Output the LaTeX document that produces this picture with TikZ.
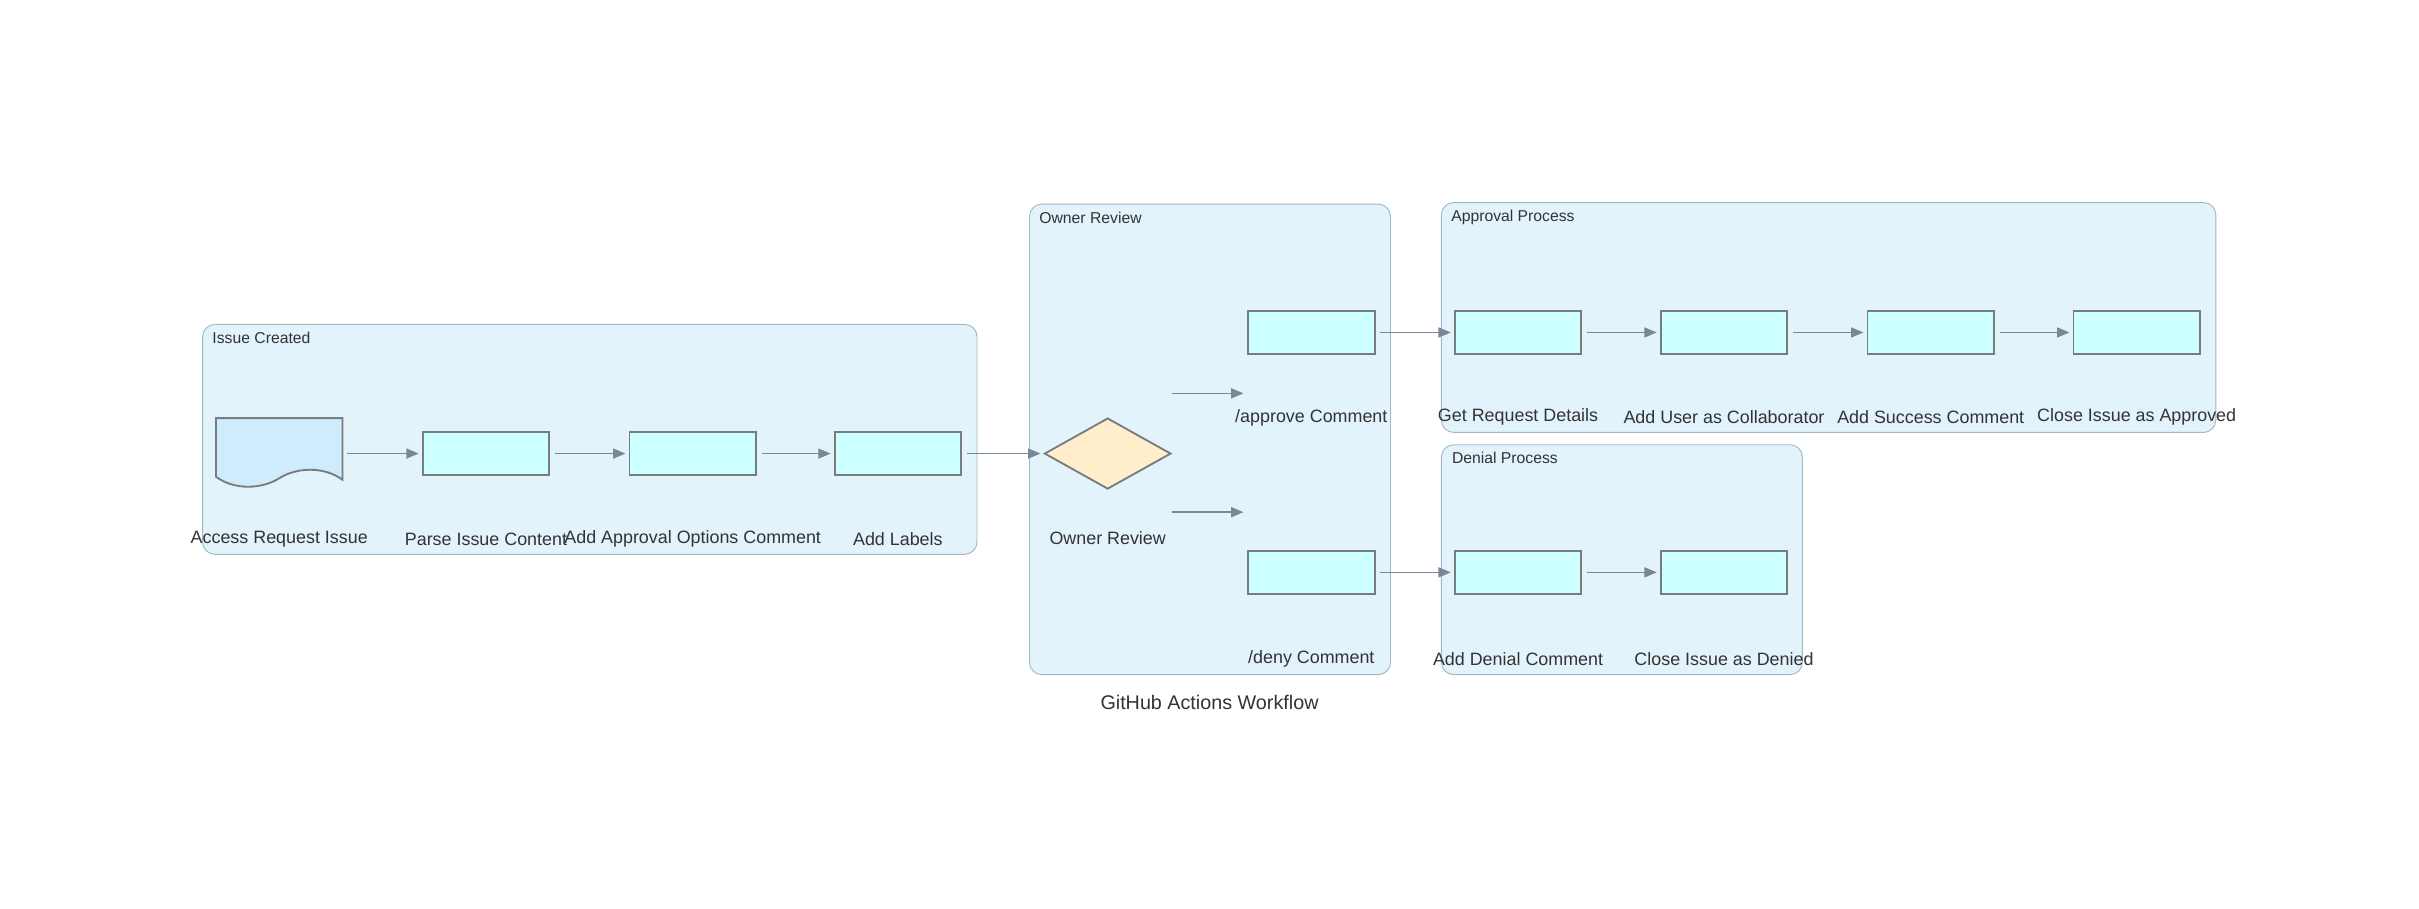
\documentclass[tikz,border=0pt]{standalone}
\usepackage{fontspec}
\setmainfont{Liberation Sans}
\usetikzlibrary{shapes.geometric,arrows.meta,positioning}
\definecolor{clusterfill}{RGB}{227,243,252}
\definecolor{clusterline}{RGB}{163,182,198}
\definecolor{stepfill}{RGB}{204,255,255}
\definecolor{docfill}{RGB}{206,236,252}
\definecolor{choicefill}{RGB}{255,237,204}
\definecolor{edgeline}{RGB}{122,135,150}
\definecolor{boxline}{RGB}{120,124,124}
\definecolor{txt}{RGB}{51,51,51}

\begin{document}
\begin{tikzpicture}[x=1pt,y=-1pt,
    cluster/.style={draw=clusterline, fill=clusterfill, rounded corners=8pt, line width=0.6pt, anchor=north west, inner sep=0pt},
    ctitle/.style={anchor=north west, text=txt, font=\fontsize{10.2}{12}\selectfont, inner sep=0pt},
    stepbox/.style={draw=boxline, fill=stepfill, line width=1.2pt, minimum width=82pt, minimum height=28pt, inner sep=0pt},
    choice/.style={diamond, draw=boxline, fill=choicefill, line width=1.2pt, minimum width=82pt, minimum height=46pt, aspect=1.78, inner sep=0pt},
    lbl/.style={text=txt, font=\fontsize{11.6}{14}\selectfont, inner sep=0pt},
    flow/.style={draw=edgeline, line width=0.9pt, -{Triangle[length=8pt,width=6.5pt]}, shorten <=3pt, shorten >=2pt}]
                    \useasboundingbox (0,0) rectangle (1568,589);
                    % clusters
                    \node[cluster, minimum width=502pt, minimum height=149pt] (issue) at (131,210) {};
                    \node[cluster, minimum width=234pt, minimum height=305pt] (owner) at (667,132) {};
                    \node[cluster, minimum width=502pt, minimum height=149pt] (approval) at (934,131) {};
                    \node[cluster, minimum width=234pt, minimum height=149pt] (denial) at (934,288) {};
                    \node[ctitle] (issue-t) at ([xshift=6.5pt,yshift=-5pt]issue.north west) {Issue Created};
                    \node[ctitle] (owner-t) at ([xshift=6.5pt,yshift=-5pt]owner.north west) {Owner Review};
                    \node[ctitle] (approval-t) at ([xshift=6.5pt,yshift=-5pt]approval.north west) {Approval Process};
                    \node[ctitle] (denial-t) at ([xshift=7pt,yshift=-5pt]denial.north west) {Denial Process};
                    % issue created
                    \node[minimum width=82pt, minimum height=46pt, inner sep=0pt] (req) at (181,294) {};
                    \draw[draw=boxline, fill=docfill, line width=1.2pt] (140,271) -- (222,271) -- (222,311)
                        .. controls (210,302) and (192,303) .. (181,310)
                        .. controls (170,317) and (152,318) .. (140,309) -- cycle;
                    \node[stepbox] (parse) at (315,294) {};
                    \node[stepbox] (options) at (449,294) {};
                    \node[stepbox] (labels) at (582,294) {};
                    % owner review
                    \node[choice] (review) at (718,294) {};
                    \node[stepbox] (approve) at (850,215.5) {};
                    \node[stepbox] (deny) at (850,371) {};
                    \coordinate (ap-a) at (757,255);
                    \coordinate (ap-b) at (808,255);
                    \coordinate (dn-a) at (757,332);
                    \coordinate (dn-b) at (808,332);
                    % approval / denial
                    \node[stepbox] (details) at (984,215.5) {};
                    \node[stepbox] (collab) at (1117.5,215.5) {};
                    \node[stepbox] (success) at (1251.5,215.5) {};
                    \node[stepbox] (closeok) at (1385,215.5) {};
                    \node[stepbox] (denial1) at (984,371) {};
                    \node[stepbox] (closeno) at (1117.5,371) {};
                    % labels
                    \node[lbl] (req-l) at ([yshift=-55.5pt]req.center) {Access Request Issue};
                    \node[lbl] (parse-l) at ([yshift=-55.5pt]parse.center) {Parse Issue Content};
                    \node[lbl] (options-l) at ([yshift=-55.5pt]options.center) {Add Approval Options Comment};
                    \node[lbl] (labels-l) at ([yshift=-55.5pt]labels.center) {Add Labels};
                    \node[lbl] (review-l) at ([yshift=-55pt]review.center) {Owner Review};
                    \node[lbl] (approve-l) at ([yshift=-55.5pt]approve.center) {/approve Comment};
                    \node[lbl] (deny-l) at ([yshift=-56pt]deny.center) {/deny Comment};
                    \node[lbl] (details-l) at ([yshift=-55pt]details.center) {Get Request Details};
                    \node[lbl] (collab-l) at ([yshift=-55pt]collab.center) {Add User as Collaborator};
                    \node[lbl] (success-l) at ([yshift=-55pt]success.center) {Add Success Comment};
                    \node[lbl] (closeok-l) at ([yshift=-55pt]closeok.center) {Close Issue as Approved};
                    \node[lbl] (denial1-l) at ([yshift=-56pt]denial1.center) {Add Denial Comment};
                    \node[lbl] (closeno-l) at ([yshift=-56pt]closeno.center) {Close Issue as Denied};
                    \node[lbl, font=\fontsize{12.8}{15}\selectfont] (title) at (784,455.5) {GitHub Actions Workflow};
                    % connectors
                    \draw[flow] (req.east) -- (parse.west);
                    \draw[flow] (parse) -- (options);
                    \draw[flow] (options) -- (labels);
                    \draw[flow] (labels) -- (review);
                    \draw[flow] (ap-a) -- (ap-b);
                    \draw[flow] (dn-a) -- (dn-b);
                    \draw[flow] (approve) -- (details);
                    \draw[flow] (details) -- (collab);
                    \draw[flow] (collab) -- (success);
                    \draw[flow] (success) -- (closeok);
                    \draw[flow] (deny) -- (denial1);
                    \draw[flow] (denial1) -- (closeno);
                \end{tikzpicture}
\end{document}
